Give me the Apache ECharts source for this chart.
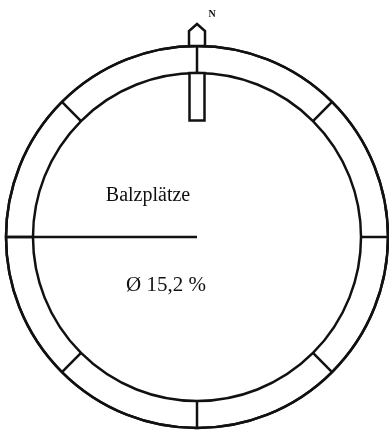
<!DOCTYPE html>
<html>
<head>
<meta charset="utf-8">
<script src="https://cdn.jsdelivr.net/npm/echarts@6/dist/echarts.min.js"></script>
<style>
  html, body { margin: 0; padding: 0; background: #fff; }
  #chart { width: 389px; height: 433px; }
</style>
</head>
<body>
<div id="chart"></div>
<script>
// compass sectors (degrees, clockwise from north)
const sectorAngles = [0, 45, 90, 135, 180, 225, 270, 315];
// inner ring = mean, outer ring = rim of the diagram
const meanPct = 15.2;
const outerPct = 17.7;
// bars pointing inward from the mean ring
const barAngles = [0];
const barValues = [10.8];
// direction line from centre
const vectorAngles = [270];
const vectorValues = [17.7];
const titleText = "Balzplätze";
const meanText = "Ø 15,2 %";
const northLabel = "N";

const ink = "#111";
const serif = "'Liberation Serif', 'DejaVu Serif', serif";

const chart = echarts.init(document.getElementById("chart"), null, { renderer: "canvas" });

function lineBetween(api, r1, r2, a) {
  const p1 = api.coord([r1, a]);
  const p2 = api.coord([r2, a]);
  return {
    type: "line",
    shape: { x1: p1[0], y1: p1[1], x2: p2[0], y2: p2[1] },
    style: { stroke: ink, lineWidth: 2.5 },
  };
}

chart.setOption({
  backgroundColor: "#fff",
  animation: false,
  polar: { center: [197, 237], radius: 191 },
  angleAxis: {
    type: "value",
    min: 0,
    max: 360,
    startAngle: 90,
    clockwise: true,
    axisLine: { show: true, lineStyle: { color: ink, width: 2.5 } },
    axisTick: { show: false },
    axisLabel: { show: false },
    splitLine: { show: false },
  },
  radiusAxis: {
    type: "value",
    min: 0,
    max: outerPct,
    interval: meanPct,
    axisLine: { show: false },
    axisTick: { show: false },
    axisLabel: { show: false },
    splitLine: { show: true, lineStyle: { color: ink, width: 2.5 } },
  },
  graphic: [
    {
      type: "text",
      x: 148,
      y: 196,
      style: {
        text: titleText,
        font: "20px " + serif,
        fill: ink,
        textAlign: "center",
        textVerticalAlign: "middle",
      },
    },
    {
      type: "text",
      x: 166,
      y: 285,
      style: {
        text: meanText,
        font: "21px " + serif,
        fill: ink,
        textAlign: "center",
        textVerticalAlign: "middle",
      },
    },
  ],
  series: [
    {
      // sector dividers between the two rings
      type: "custom",
      coordinateSystem: "polar",
      silent: true,
      data: sectorAngles.map((a) => [outerPct, a]),
      renderItem: (params, api) => lineBetween(api, meanPct, outerPct, api.value(1)),
    },
    {
      // direction line from centre
      type: "custom",
      coordinateSystem: "polar",
      silent: true,
      data: vectorAngles.map((a, i) => [vectorValues[i], a]),
      renderItem: (params, api) => lineBetween(api, 0, api.value(0), api.value(1)),
    },
    {
      // inward bars from the mean ring
      type: "custom",
      coordinateSystem: "polar",
      silent: true,
      data: barAngles.map((a, i) => [barValues[i], a]),
      renderItem: (params, api) => {
        const a = api.value(1);
        const p1 = api.coord([meanPct, a]);
        const p2 = api.coord([api.value(0), a]);
        const dx = p2[0] - p1[0], dy = p2[1] - p1[1];
        const len = Math.hypot(dx, dy) || 1;
        const nx = (-dy / len) * 7.5, ny = (dx / len) * 7.5;
        return {
          type: "polygon",
          shape: {
            points: [
              [p1[0] + nx, p1[1] + ny],
              [p2[0] + nx, p2[1] + ny],
              [p2[0] - nx, p2[1] - ny],
              [p1[0] - nx, p1[1] - ny],
            ],
          },
          style: { fill: "#fff", stroke: ink, lineWidth: 2.5 },
        };
      },
    },
    {
      // north marker on the rim
      type: "custom",
      coordinateSystem: "polar",
      silent: true,
      data: [[outerPct, 0]],
      renderItem: (params, api) => {
        const p = api.coord([api.value(0), api.value(1)]);
        const x = p[0], y = p[1];
        return {
          type: "group",
          children: [
            {
              type: "polygon",
              shape: {
                points: [
                  [x - 8, y],
                  [x - 8, y - 15],
                  [x, y - 22],
                  [x + 8, y - 15],
                  [x + 8, y],
                ],
              },
              style: { fill: "#fff", stroke: ink, lineWidth: 2.5 },
            },
            {
              type: "text",
              x: x + 15,
              y: y - 32,
              style: {
                text: northLabel,
                font: "bold 10px " + serif,
                fill: ink,
                textAlign: "center",
                textVerticalAlign: "middle",
              },
            },
          ],
        };
      },
    },
  ],
});
</script>
</body>
</html>
